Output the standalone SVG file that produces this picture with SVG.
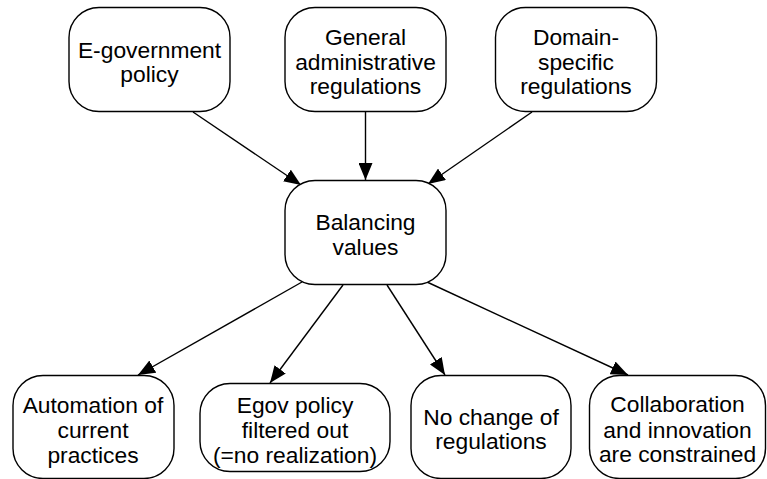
<svg xmlns="http://www.w3.org/2000/svg" width="767" height="479" viewBox="0 0 767 479">
<style>
.box{fill:#fff;stroke:#000;stroke-width:1.4}
.t{font-family:"Liberation Sans",Arial,sans-serif;font-size:22.8px;text-anchor:middle;fill:#000}
.e{stroke:#000;stroke-width:1.4;fill:none;marker-end:url(#ah)}
</style>
<defs>
<marker id="ah" viewBox="0 0 17 14" refX="17" refY="7" markerWidth="17" markerHeight="14" markerUnits="userSpaceOnUse" orient="auto">
<path d="M0,0 L17,7 L0,14 Z" fill="#000"/>
</marker>
</defs>
<rect width="767" height="479" fill="#fff"/>
<g id="connectors">
<line class="e" x1="193" y1="112" x2="301" y2="185"/>
<line class="e" x1="365.5" y1="112" x2="365.5" y2="180"/>
<line class="e" x1="532" y1="112" x2="428" y2="184"/>
<line class="e" x1="302" y1="282" x2="138" y2="375"/>
<line class="e" x1="343" y1="285" x2="270" y2="383"/>
<line class="e" x1="387" y1="285" x2="445" y2="375"/>
<line class="e" x1="427" y1="282" x2="628" y2="375"/>
</g>
<g id="egov">
<rect class="box" x="69" y="7.5" width="161" height="104" rx="30"/>
<text class="t" x="149.5" y="58">E-government</text>
<text class="t" x="149.5" y="82">policy</text>
</g>
<g id="general">
<rect class="box" x="285" y="7.5" width="161" height="104" rx="30"/>
<text class="t" x="365.5" y="45">General</text>
<text class="t" x="365.5" y="69.5">administrative</text>
<text class="t" x="365.5" y="94">regulations</text>
</g>
<g id="domain">
<rect class="box" x="495.5" y="7.5" width="161" height="104" rx="30"/>
<text class="t" x="576" y="45">Domain-</text>
<text class="t" x="576" y="69.5">specific</text>
<text class="t" x="576" y="94">regulations</text>
</g>
<g id="balancing">
<rect class="box" x="285" y="180.5" width="161" height="104" rx="30"/>
<text class="t" x="365.5" y="230">Balancing</text>
<text class="t" x="365.5" y="255">values</text>
</g>
<g id="automation">
<rect class="box" x="13" y="375.5" width="161" height="103" rx="30"/>
<text class="t" x="93" y="413">Automation of</text>
<text class="t" x="93" y="438">current</text>
<text class="t" x="93" y="463">practices</text>
</g>
<g id="filtered">
<rect class="box" x="200" y="383.5" width="190" height="88" rx="30"/>
<text class="t" x="295" y="413">Egov policy</text>
<text class="t" x="295" y="438">filtered out</text>
<text class="t" x="295" y="463">(=no realization)</text>
</g>
<g id="nochange">
<rect class="box" x="411" y="375.5" width="160" height="103" rx="30"/>
<text class="t" x="491" y="425">No change of</text>
<text class="t" x="491" y="449">regulations</text>
</g>
<g id="collab">
<rect class="box" x="589.5" y="375.5" width="176" height="103" rx="30"/>
<text class="t" x="677.5" y="412">Collaboration</text>
<text class="t" x="677.5" y="438">and innovation</text>
<text class="t" x="677.5" y="462">are constrained</text>
</g>
</svg>
